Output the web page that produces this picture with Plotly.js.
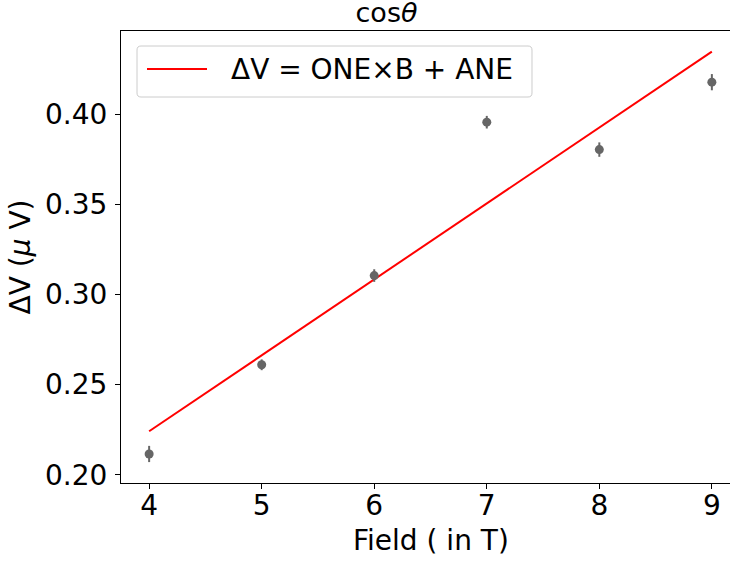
<!DOCTYPE html>
<html>
<head>
<meta charset="utf-8">
<script src="https://cdn.plot.ly/plotly-3.0.1.min.js"></script>
<style>
  html, body { margin: 0; padding: 0; overflow: hidden; background: #fff; }
  #chart { width: 740px; height: 563px; }
</style>
</head>
<body>
<div id="chart"></div>
<script>
// Measured voltage difference versus applied field
const fieldT = [4, 5, 6, 7, 8, 9];
const deltaV = [0.2115, 0.261, 0.3105, 0.3956, 0.3804, 0.4178];
const deltaVErr = [0.0045, 0.003, 0.0035, 0.0035, 0.004, 0.0045];

// Linear fit  ΔV = ONE×B + ANE, evaluated at the ends of the field range
const fitField = [4, 9];
const fitDeltaV = [0.2241, 0.4348];

const xTicks = [4, 5, 6, 7, 8, 9];
const yTicks = [0.20, 0.25, 0.30, 0.35, 0.40];

const FONT = "DejaVu Sans";
const W = 740, H = 563;
const M = { l: 121, r: 0, t: 31, b: 80 };
const PW = W - M.l - M.r, PH = H - M.t - M.b;

// pixel -> paper helpers for the legend box and x-axis label
const px = v => (v - M.l) / PW;
const py = v => (H - M.b - v) / PH;

function roundedRect(x0, y0, x1, y1, r) {
  const p = [
    ['M', x0 + r, y0], ['L', x1 - r, y0], ['Q', x1, y0, x1, y0 + r],
    ['L', x1, y1 - r], ['Q', x1, y1, x1 - r, y1], ['L', x0 + r, y1],
    ['Q', x0, y1, x0, y1 - r], ['L', x0, y0 + r], ['Q', x0, y0, x0 + r, y0]
  ];
  return p.map(s => {
    const out = [s[0]];
    for (let i = 1; i < s.length; i += 2) out.push(px(s[i]).toFixed(5) + ',' + py(s[i + 1]).toFixed(5));
    return out.join(' ');
  }).join(' ') + ' Z';
}

const fitTrace = {
  x: fitField, y: fitDeltaV, type: 'scatter', mode: 'lines',
  name: 'ΔV = ONE×B + ANE',
  line: { color: '#ff0000', width: 2 },
  showlegend: false, hoverinfo: 'skip'
};

const dataTrace = {
  x: fieldT, y: deltaV, type: 'scatter', mode: 'markers',
  marker: { color: '#666666', size: 9 },
  error_y: { type: 'data', array: deltaVErr, visible: true, color: '#666666', thickness: 2, width: 0 },
  showlegend: false
};

const axisCommon = {
  showline: true, mirror: true, linecolor: '#000', linewidth: 1,
  ticks: 'outside', ticklen: 5, tickwidth: 1, tickcolor: '#000',
  showgrid: false, zeroline: false,
  tickfont: { family: FONT, size: 28, color: '#000' }
};

const layout = {
  width: W, height: H,
  margin: M,
  paper_bgcolor: '#fff', plot_bgcolor: '#fff',
  font: { family: FONT, color: '#000' },
  title: {
    text: 'cos<i>θ</i>',
    font: { family: FONT, size: 27, color: '#000' },
    xref: 'container', x: 386.5 / W, xanchor: 'center',
    yref: 'container', y: 1 - 22 / H, yanchor: 'bottom'
  },
  xaxis: Object.assign({}, axisCommon, {
    range: [3.75, 9.25], tickvals: xTicks, ticktext: xTicks.map(String),
    ticklabelstandoff: -8
  }),
  yaxis: Object.assign({}, axisCommon, {
    range: [0.1954, 0.4462], tickvals: yTicks, ticktext: yTicks.map(v => v.toFixed(2)),
    ticklabelstandoff: 2,
    title: { text: 'ΔV (<i>μ</i> V)', font: { family: FONT, size: 28, color: '#000' }, standoff: 6 }
  }),
  shapes: [
    {
      type: 'path', xref: 'paper', yref: 'paper',
      path: roundedRect(137, 46, 532, 97, 4),
      fillcolor: 'rgba(255,255,255,0.8)', line: { color: '#cccccc', width: 1 }, layer: 'above'
    },
    {
      type: 'line', xref: 'paper', yref: 'paper',
      x0: px(147), x1: px(207), y0: py(69), y1: py(69),
      line: { color: '#ff0000', width: 2 }, layer: 'above'
    }
  ],
  annotations: [
    {
      xref: 'paper', yref: 'paper', x: px(229), y: py(70),
      xanchor: 'left', yanchor: 'middle', showarrow: false,
      text: 'ΔV = ONE×B + ANE',
      font: { family: FONT, size: 28, color: '#000' }
    },
    {
      // x-axis label
      xref: 'paper', yref: 'paper', x: px(430.5), y: py(540),
      xanchor: 'center', yanchor: 'middle', showarrow: false,
      text: 'Field ( in T)',
      font: { family: FONT, size: 28, color: '#000' }
    }
  ]
};

Plotly.newPlot('chart', [fitTrace, dataTrace], layout, { displayModeBar: false, staticPlot: true });
</script>
</body>
</html>
